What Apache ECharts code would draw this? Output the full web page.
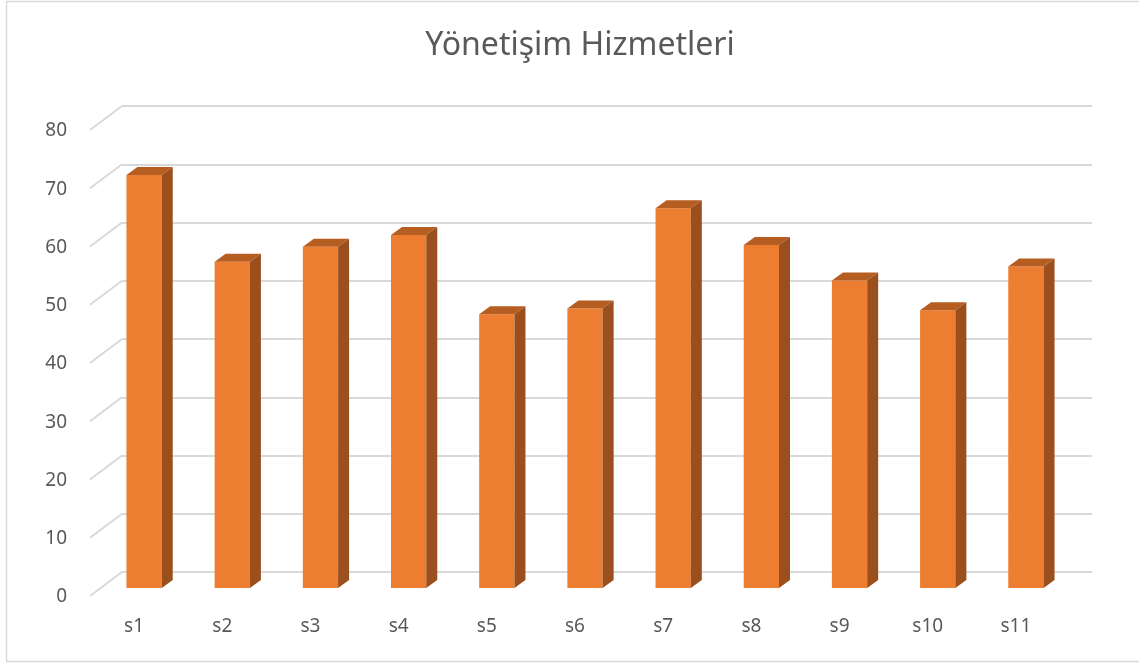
<!DOCTYPE html>
<html>
<head>
<meta charset="utf-8">
<script src="https://cdn.jsdelivr.net/npm/echarts@6/dist/echarts.min.js"></script>
<style>
  html, body { margin: 0; padding: 0; background: #fff; }
  #chart { width: 1139px; height: 666px; }
</style>
</head>
<body>
<div id="chart"></div>
<script>
const categories = ['s1', 's2', 's3', 's4', 's5', 's6', 's7', 's8', 's9', 's10', 's11']
const values = [70.9, 56.0, 58.6, 60.6, 47.0, 48.0, 65.2, 58.9, 52.8, 47.7, 55.2]
const yTicks = [0, 10, 20, 30, 40, 50, 60, 70, 80]

const textColor = '#595959'
const gridColor = '#d9d9d9'
const fontFamily = '"Noto Sans", "Open Sans", sans-serif'

// oblique 3d offsets (px): floor depth, bar front plane, bar depth
const floorDX = 32, floorDY = 24
const frontDX = 22, frontDY = 16
const depthDX = 11, depthDY = 8

const chart = echarts.init(document.getElementById('chart'))

const renderAxis = (params, api) => {
  const v = api.value(1)
  const p = api.coord([0, v])
  const x0 = params.coordSys.x
  return {
    type: 'group',
    children: [
      {
        type: 'line',
        shape: { x1: x0, y1: p[1], x2: x0 - floorDX, y2: p[1] + floorDY },
        style: { stroke: gridColor, lineWidth: 2 }
      },
      {
        type: 'text',
        style: {
          x: x0 - 55, y: p[1] + 25, text: String(v),
          align: 'right', verticalAlign: 'middle',
          fill: textColor, font: '19px ' + fontFamily
        }
      }
    ]
  }
}

const renderBar = (params, api) => {
  const i = api.value(0)
  const v = api.value(1)
  const top = api.coord([i, v])
  const base = api.coord([i, 0])
  const band = api.size([1, 0])[0]
  const w = band * 0.4
  const cx = top[0] - frontDX
  const x1 = cx - w / 2, x2 = cx + w / 2
  const yt = top[1] + frontDY, yb = base[1] + frontDY
  return {
    type: 'group',
    children: [
      {
        type: 'rect',
        shape: { x: x1, y: yt, width: w, height: yb - yt },
        style: { fill: '#ed7d31' }
      },
      {
        type: 'polygon',
        shape: { points: [[x1, yt], [x1 + depthDX, yt - depthDY], [x2 + depthDX, yt - depthDY], [x2, yt]] },
        style: { fill: '#b65d22' }
      },
      {
        type: 'polygon',
        shape: { points: [[x2, yt], [x2 + depthDX, yt - depthDY], [x2 + depthDX, yb - depthDY], [x2, yb]] },
        style: { fill: '#9a4f1d' }
      },
      {
        type: 'text',
        style: {
          x: top[0] - floorDX, y: base[1] + 55, text: categories[i],
          align: 'center', verticalAlign: 'middle',
          fill: textColor, font: '19px ' + fontFamily
        }
      }
    ]
  }
}

const option = {
  animation: false,
  backgroundColor: '#fff',
  title: {
    text: 'Yönetişim Hizmetleri',
    left: 575,
    top: 25,
    textAlign: 'center',
    textStyle: { color: textColor, fontSize: 32, fontWeight: 'normal', fontFamily: fontFamily }
  },
  graphic: [
    {
      type: 'rect',
      shape: { x: 6.5, y: 1.5, width: 1140, height: 660 },
      style: { fill: 'none', stroke: gridColor, lineWidth: 1.5 },
      silent: true
    }
  ],
  grid: { left: 122, right: 47, top: 106, bottom: 94 },
  xAxis: {
    type: 'category',
    data: categories,
    axisLine: { show: false },
    axisTick: { show: false },
    axisLabel: { show: false }
  },
  yAxis: {
    type: 'value',
    min: 0,
    max: 80,
    interval: 10,
    axisLine: { show: false },
    axisTick: { show: false },
    axisLabel: { show: false },
    splitLine: { show: true, lineStyle: { color: gridColor, width: 2 } }
  },
  series: [
    {
      type: 'custom',
      name: 'axis',
      renderItem: renderAxis,
      data: yTicks.map(v => [0, v]),
      clip: false,
      silent: true
    },
    {
      type: 'custom',
      name: 'Yönetişim Hizmetleri',
      renderItem: renderBar,
      data: values.map((v, i) => [i, v]),
      clip: false
    }
  ]
}

chart.setOption(option)
</script>
</body>
</html>
